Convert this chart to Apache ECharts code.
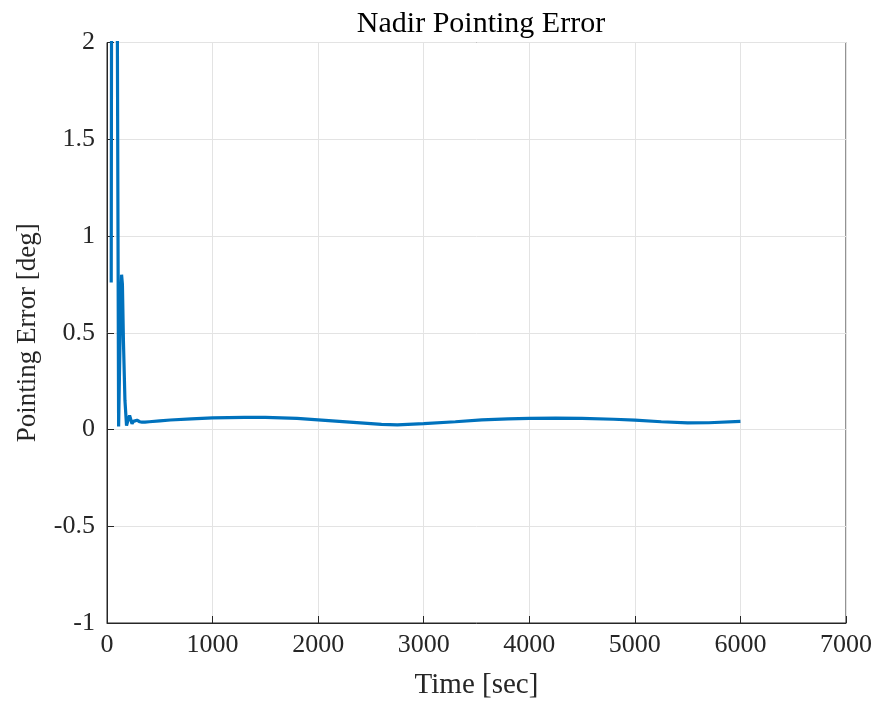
<!DOCTYPE html>
<html>
<head>
<meta charset="utf-8">
<script src="https://cdn.jsdelivr.net/npm/echarts@6/dist/echarts.min.js"></script>
<style>html,body{margin:0;padding:0;background:#fff}#c{width:878px;height:706px}</style>
</head>
<body>
<div id="c"></div>
<script>
const titleText = 'Nadir Pointing Error';
const xName = 'Time [sec]';
const yName = 'Pointing Error [deg]';
const time = [40, 44, 70, 95, 110, 126, 138, 146, 156, 170, 185, 200, 214, 226, 237, 250, 265, 284, 310, 331, 360, 400, 500, 600, 800, 1000, 1300, 1500, 1800, 2000, 2300, 2600, 2750, 3000, 3300, 3550, 3800, 4000, 4250, 4500, 4800, 5000, 5250, 5500, 5700, 6000];
const error = [0.76, 2.6, 6.0, 2.6, 0.015, 0.55, 0.8, 0.75, 0.45, 0.15, 0.02, 0.05, 0.072, 0.05, 0.03, 0.042, 0.05, 0.048, 0.04, 0.038, 0.038, 0.04, 0.045, 0.049, 0.055, 0.06, 0.063, 0.063, 0.057, 0.05, 0.038, 0.026, 0.024, 0.03, 0.04, 0.05, 0.055, 0.058, 0.059, 0.057, 0.053, 0.048, 0.04, 0.034, 0.035, 0.042];
const xTicks = {min: 0, max: 7000, interval: 1000};
const yTicks = {min: -1, max: 2, interval: 0.5};

const font = '"Liberation Serif", "DejaVu Serif", serif';
const chart = echarts.init(document.getElementById('c'), null, {renderer: 'canvas'});
chart.setOption({
  animation: false,
  backgroundColor: '#fff',
  title: {
    text: titleText, left: 476, top: 4, textAlign: 'center',
    textStyle: {fontFamily: font, fontSize: 30, fontWeight: 'normal', color: '#000'}
  },
  grid: {left: 107, right: 32, top: 42.5, bottom: 83, outerBoundsMode: 'none', containLabel: false,
         show: true, borderColor: '#262626', borderWidth: 1, backgroundColor: 'transparent'},
  xAxis: {
    type: 'value', min: xTicks.min, max: xTicks.max, interval: xTicks.interval,
    name: xName, nameLocation: 'middle', nameGap: 48,
    nameTextStyle: {fontFamily: font, fontSize: 29, color: '#262626'},
    axisLine: {show: true, onZero: false, lineStyle: {color: '#262626', width: 1}},
    axisTick: {show: true, inside: true, length: 7, lineStyle: {color: '#262626'}},
    axisLabel: {fontFamily: font, fontSize: 26, color: '#262626', margin: 9, formatter: v => String(v)},
    splitLine: {show: true, lineStyle: {color: '#e3e3e3', width: 1}}
  },
  yAxis: {
    type: 'value', min: yTicks.min, max: yTicks.max, interval: yTicks.interval,
    name: yName, nameLocation: 'middle', nameGap: 66, nameRotate: 90,
    nameTextStyle: {fontFamily: font, fontSize: 27, color: '#262626'},
    axisLine: {show: true, onZero: false, lineStyle: {color: '#262626', width: 1}},
    axisTick: {show: true, inside: true, length: 7, lineStyle: {color: '#262626'}},
    axisLabel: {fontFamily: font, fontSize: 26, color: '#262626', margin: 12, formatter: v => String(v)},
    splitLine: {show: true, lineStyle: {color: '#e3e3e3', width: 1}}
  },
  series: [{
    type: 'line',
    data: time.map((t, i) => [t, error[i]]),
    showSymbol: false, symbol: 'none', smooth: false, clip: true,
    lineStyle: {color: '#0072BD', width: 3.2},
    z: 5
  }]
});
</script>
</body>
</html>
